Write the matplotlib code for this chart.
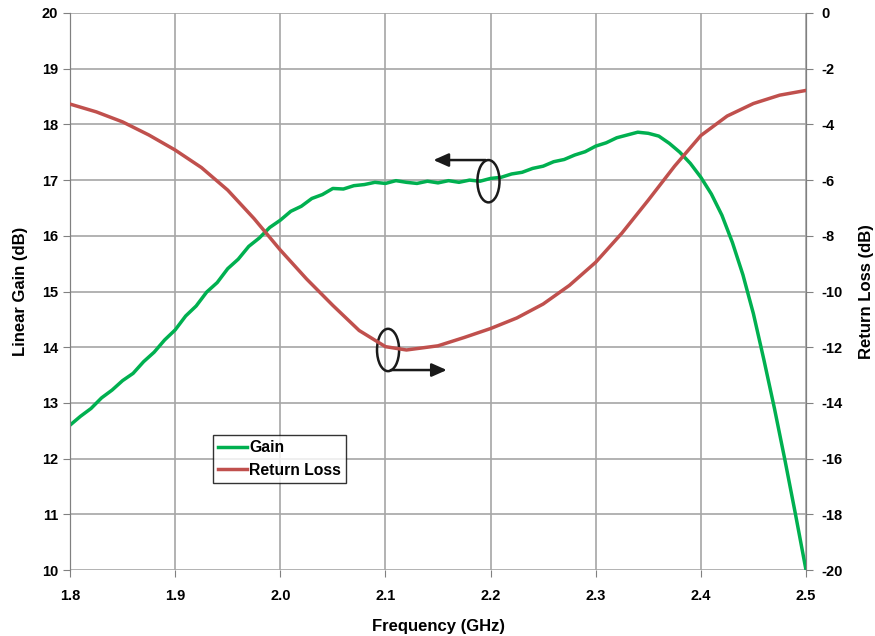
import matplotlib
matplotlib.use("Agg")
import matplotlib.pyplot as plt
from matplotlib.patches import Ellipse
import numpy as np

plt.rcParams['font.family'] = ['Liberation Sans', 'DejaVu Sans']
plt.rcParams['font.weight'] = 'bold'
plt.rcParams['axes.unicode_minus'] = False

gain_freq = [1.80, 1.81, 1.82, 1.83, 1.84, 1.85, 1.86, 1.87, 1.88, 1.89, 1.90, 1.91, 1.92, 1.93, 1.94,
             1.95, 1.96, 1.97, 1.98, 1.99, 2.00, 2.01, 2.02, 2.03, 2.04, 2.05, 2.06, 2.07, 2.08, 2.09,
             2.10, 2.11, 2.12, 2.13, 2.14, 2.15, 2.16, 2.17, 2.18, 2.19, 2.20, 2.21, 2.22, 2.23, 2.24,
             2.25, 2.26, 2.27, 2.28, 2.29, 2.30, 2.31, 2.32, 2.33, 2.34, 2.35, 2.36, 2.37, 2.38, 2.39,
             2.40, 2.41, 2.42, 2.43, 2.44, 2.45, 2.46, 2.47, 2.48, 2.49, 2.50]
gain_db = [12.60, 12.76, 12.90, 13.09, 13.23, 13.40, 13.53, 13.74, 13.91, 14.13, 14.31, 14.56, 14.74, 14.99, 15.16,
           15.41, 15.58, 15.81, 15.96, 16.15, 16.28, 16.44, 16.53, 16.67, 16.74, 16.85, 16.84, 16.90, 16.92, 16.96,
           16.94, 16.99, 16.96, 16.94, 16.98, 16.95, 16.99, 16.96, 17.00, 16.98, 17.03, 17.05, 17.11, 17.14, 17.21,
           17.25, 17.33, 17.37, 17.45, 17.51, 17.61, 17.67, 17.76, 17.81, 17.86, 17.84, 17.79, 17.66, 17.50, 17.30,
           17.05, 16.75, 16.37, 15.88, 15.30, 14.60, 13.77, 12.90, 11.97, 11.00, 10.00]

rl_freq = [1.80, 1.825, 1.85, 1.875, 1.90, 1.925, 1.95, 1.975, 2.00, 2.025, 2.05, 2.075, 2.10, 2.12,
           2.15, 2.175, 2.20, 2.225, 2.25, 2.275, 2.30, 2.325, 2.35, 2.375, 2.40, 2.425, 2.45, 2.475, 2.50]
rl_db = [-3.27, -3.55, -3.91, -4.38, -4.92, -5.55, -6.36, -7.38, -8.51, -9.55, -10.50, -11.40, -11.98, -12.10,
         -11.95, -11.65, -11.33, -10.95, -10.45, -9.78, -8.95, -7.90, -6.72, -5.50, -4.40, -3.70, -3.25, -2.95, -2.78]

fig = plt.figure(figsize=(8.75, 6.36), dpi=100)
ax = fig.add_axes([70/875, 1 - 570/636, (806-70)/875, (570-13)/636])
ax2 = ax.twinx()

green = '#00B050'
red = '#C0504D'
grid_c = '#A6A6A6'

ax.plot(gain_freq, gain_db, color=green, lw=2.5, label='Gain', zorder=3)
ax2.plot(rl_freq, rl_db, color=red, lw=2.5, label='Return Loss', zorder=3)

ax.set_xlim(1.8, 2.5)
ax.set_ylim(10, 20)
ax2.set_ylim(-20, 0)
ax.set_xticks(np.arange(1.8, 2.501, 0.1))
ax.set_xticklabels(['1.8', '1.9', '2.0', '2.1', '2.2', '2.3', '2.4', '2.5'])
ax.set_yticks(range(10, 21))
ax2.set_yticks(range(-20, 1, 2))

ax.grid(True, color=grid_c, lw=1.2)
ax.set_axisbelow(True)
for a in (ax, ax2):
    for s in a.spines.values():
        s.set_color('#808080')
    a.spines['top'].set_visible(False)
    a.tick_params(colors='black', labelsize=10.5, length=5, color='#808080')
ax.spines['bottom'].set_visible(False)
ax2.spines['bottom'].set_visible(False)
ax.tick_params(axis='x', length=5, pad=9)
ax2.tick_params(axis='y', pad=6)

ax.set_xlabel('Frequency (GHz)', fontsize=12, fontweight='bold', labelpad=11)
ax.set_ylabel('Linear Gain (dB)', fontsize=12, fontweight='bold', labelpad=10)
ax2.set_ylabel('Return Loss (dB)', fontsize=12, fontweight='bold', labelpad=12)

# annotations: ellipses with arrows
ax.add_patch(Ellipse((2.198, 16.98), 0.021, 0.76, fill=False, ec='#1a1a1a', lw=1.8, zorder=5))
ax.annotate('', xy=(2.143, 17.36), xytext=(2.198, 17.36),
            arrowprops=dict(arrowstyle='-|>,head_length=0.9,head_width=0.4', color='#1a1a1a', lw=1.8), zorder=5)
ax.add_patch(Ellipse((2.1025, 13.95), 0.021, 0.76, fill=False, ec='#1a1a1a', lw=1.8, zorder=5))
ax.annotate('', xy=(2.161, 13.59), xytext=(2.1025, 13.59),
            arrowprops=dict(arrowstyle='-|>,head_length=0.9,head_width=0.4', color='#1a1a1a', lw=1.8), zorder=5)

h1, l1 = ax.get_legend_handles_labels()
h2, l2 = ax2.get_legend_handles_labels()
leg = ax2.legend(h1 + h2, l1 + l2, loc='upper left', bbox_to_anchor=((213-70)/736, (570-435)/557),
                 frameon=True, fancybox=False, edgecolor='black', fontsize=11.3, handlelength=1.8,
                 handletextpad=0.15, borderpad=0.35, labelspacing=0.45, borderaxespad=0)
leg.get_frame().set_linewidth(1.0)
for t in leg.get_texts():
    t.set_fontweight('bold')

fig.savefig('out.png', dpi=100)
